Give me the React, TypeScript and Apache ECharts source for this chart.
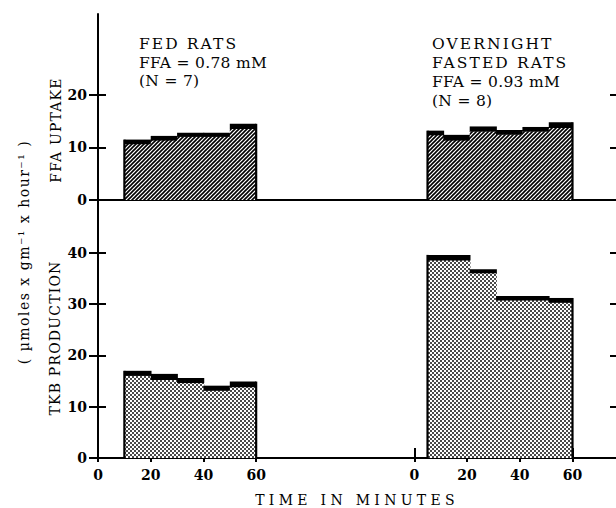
import React, { useEffect, useRef } from "react";
import * as echarts from "echarts";

// ---- data (minutes, µmoles x gm-1 x hour-1) ----
const fedEdges = [10, 20, 30, 40, 50, 60];
const fedFFA = [11.5, 12.2, 12.8, 12.8, 14.5];
const fedFFASE = [0.8, 0.8, 0.7, 0.7, 0.9];
const fedTKB = [17.0, 16.4, 15.6, 14.1, 14.9];
const fedTKBSE = [0.9, 1.1, 0.9, 0.9, 1.0];

const fastedFFAEdges = [5, 11, 21, 31, 41, 51, 60];
const fastedFFA = [13.2, 12.4, 14.0, 13.3, 13.9, 14.8];
const fastedFFASE = [0.8, 1.0, 0.9, 0.8, 0.8, 1.0];
const fastedTKBEdges = [5, 21, 31, 51, 60];
const fastedTKB = [39.6, 36.8, 31.6, 31.2];
const fastedTKBSE = [1.0, 0.7, 0.8, 0.85];

const timeTicks = [0, 20, 40, 60];
const ffaTicks = [0, 10, 20];
const tkbTicks = [0, 10, 20, 30, 40];
const ffaRightTicks = [10, 20];
const tkbRightTicks = [10, 20, 30, 40];

const fedLabel = ["FED RATS", "FFA = 0.78 mM", "(N = 7)"];
const fastedLabel = ["OVERNIGHT", "FASTED RATS", "FFA = 0.93 mM", "(N = 8)"];

const FASTED_OFFSET = 120; // second time block drawn to the right
const X_MAX = 196.5;
const FONT = "'DejaVu Serif', serif";

function steps(edges: number[], vals: number[], se: number[], offset: number) {
  return vals.map((v, i) => [
    edges[i] + offset,
    edges[i + 1] + offset,
    v,
    se[i],
    i === 0 ? 1 : 0,
    i === vals.length - 1 ? 1 : 0,
  ]);
}

function hatchCanvas() {
  const c = document.createElement("canvas");
  c.width = 4;
  c.height = 4;
  const ctx = c.getContext("2d")!;
  ctx.fillStyle = "#fff";
  ctx.fillRect(0, 0, 4, 4);
  ctx.strokeStyle = "#000";
  ctx.lineWidth = 1.6;
  ctx.beginPath();
  ctx.moveTo(-1, 5);
  ctx.lineTo(5, -1);
  ctx.moveTo(-1, 1);
  ctx.lineTo(1, -1);
  ctx.moveTo(3, 5);
  ctx.lineTo(5, 3);
  ctx.stroke();
  return c;
}

function dotCanvas() {
  const c = document.createElement("canvas");
  c.width = 4;
  c.height = 4;
  const ctx = c.getContext("2d")!;
  ctx.fillStyle = "#fff";
  ctx.fillRect(0, 0, 4, 4);
  ctx.fillStyle = "#4a4a4a";
  ctx.fillRect(0, 0, 2, 2);
  ctx.fillRect(2, 2, 2, 2);
  return c;
}

function makeRender(pattern: any) {
  return (params: any, api: any) => {
    const x0 = api.value(0);
    const x1 = api.value(1);
    const v = api.value(2);
    const se = api.value(3);
    const first = api.value(4);
    const last = api.value(5);
    const b0 = api.coord([x0, 0]);
    const t1 = api.coord([x1, v]);
    const m = api.coord([x1, v - se]);
    const w = t1[0] - b0[0] + (last ? 0 : 0.8);
    const children: any[] = [
      {
        type: "rect",
        shape: { x: b0[0], y: m[1], width: w, height: b0[1] - m[1] },
        style: { fill: pattern },
      },
      {
        type: "rect",
        shape: { x: b0[0], y: t1[1], width: w, height: m[1] - t1[1] + 0.5 },
        style: { fill: "#000" },
      },
    ];
    if (first)
      children.push({
        type: "line",
        shape: { x1: b0[0], y1: b0[1], x2: b0[0], y2: t1[1] },
        style: { stroke: "#000", lineWidth: 2.2 },
      });
    if (last)
      children.push({
        type: "line",
        shape: { x1: t1[0], y1: b0[1], x2: t1[0], y2: t1[1] },
        style: { stroke: "#000", lineWidth: 2.2 },
      });
    return { type: "group", children };
  };
}

const allTimeTicks = [...timeTicks, ...timeTicks.map((t) => t + FASTED_OFFSET)];

export default function App() {
  const ref = useRef<HTMLDivElement>(null);
  useEffect(() => {
    if (!ref.current) return;
    const chart = echarts.init(ref.current, undefined, { renderer: "svg" });
    const hatch = { image: hatchCanvas(), repeat: "repeat" };
    const dots = { image: dotCanvas(), repeat: "repeat" };

    const lineStyle = { color: "#000", width: 2 };
    const baseX = { type: "value", min: 0, max: X_MAX, splitLine: { show: false } };
    const tickLabel = { color: "#000", fontFamily: FONT, fontWeight: "bold", fontSize: 14 };

    const txt = (x: number, y: number, text: string, fill = "#050505") => ({
      type: "text",
      x,
      y,
      style: { text, fill, font: `15.5px ${FONT}`, align: "left", verticalAlign: "middle" },
    });

    const option: any = {
      animation: false,
      grid: [
        { left: 98, right: 0, top: 14, height: 186 },
        { left: 98, right: 0, top: 200, height: 258 },
      ],
      xAxis: [
        { ...baseX, gridIndex: 0, position: "bottom", axisLine: { lineStyle }, axisTick: { show: false }, axisLabel: { show: false } },
        { ...baseX, gridIndex: 0, position: "top", axisLine: { lineStyle }, axisTick: { show: false }, axisLabel: { show: false } },
        {
          ...baseX,
          gridIndex: 1,
          position: "bottom",
          axisLine: { lineStyle },
          axisTick: { show: true, inside: true, length: 10, lineStyle: { color: "#000", width: 2 }, customValues: allTimeTicks },
          axisLabel: {
            ...tickLabel,
            margin: 10,
            customValues: allTimeTicks,
            formatter: (v: number) => String(v >= FASTED_OFFSET ? v - FASTED_OFFSET : v),
          },
        },
        {
          ...baseX,
          gridIndex: 1,
          position: "bottom",
          axisLine: { show: false },
          axisTick: { show: true, inside: false, length: 4, lineStyle: { color: "#000", width: 2 }, customValues: allTimeTicks },
          axisLabel: { show: false },
        },
      ],
      yAxis: [
        {
          type: "value", gridIndex: 0, position: "left", min: 0, max: 35.4, splitLine: { show: false },
          axisLine: { show: true, lineStyle },
          axisTick: { show: true, length: 9, lineStyle: { color: "#000", width: 2 }, customValues: ffaTicks },
          axisLabel: { ...tickLabel, margin: 11, customValues: ffaTicks },
        },
        {
          type: "value", gridIndex: 0, position: "left", min: 0, max: 35.4, splitLine: { show: false },
          axisLine: { show: false },
          axisTick: { show: true, inside: true, length: 8, lineStyle: { color: "#000", width: 2 }, customValues: ffaTicks },
          axisLabel: { show: false },
        },
        {
          type: "value", gridIndex: 0, position: "right", min: 0, max: 35.4, splitLine: { show: false },
          axisLine: { show: false },
          axisTick: { show: true, inside: true, length: 6, lineStyle: { color: "#000", width: 2 }, customValues: ffaRightTicks },
          axisLabel: { show: false },
        },
        {
          type: "value", gridIndex: 1, position: "left", min: 0, max: 50.3, splitLine: { show: false },
          axisLine: { show: true, lineStyle },
          axisTick: { show: true, length: 9, lineStyle: { color: "#000", width: 2 }, customValues: tkbTicks },
          axisLabel: { ...tickLabel, margin: 11, customValues: tkbTicks },
        },
        {
          type: "value", gridIndex: 1, position: "left", min: 0, max: 50.3, splitLine: { show: false },
          axisLine: { show: false },
          axisTick: { show: true, inside: true, length: 8, lineStyle: { color: "#000", width: 2 }, customValues: tkbTicks },
          axisLabel: { show: false },
        },
        {
          type: "value", gridIndex: 1, position: "right", min: 0, max: 50.3, splitLine: { show: false },
          axisLine: { show: false },
          axisTick: { show: true, inside: true, length: 6, lineStyle: { color: "#000", width: 2 }, customValues: tkbRightTicks },
          axisLabel: { show: false },
        },
      ],
      series: [
        { type: "custom", name: "Fed FFA uptake", xAxisIndex: 0, yAxisIndex: 0, renderItem: makeRender(hatch), data: steps(fedEdges, fedFFA, fedFFASE, 0) },
        { type: "custom", name: "Fasted FFA uptake", xAxisIndex: 0, yAxisIndex: 0, renderItem: makeRender(hatch), data: steps(fastedFFAEdges, fastedFFA, fastedFFASE, FASTED_OFFSET) },
        { type: "custom", name: "Fed TKB production", xAxisIndex: 2, yAxisIndex: 3, renderItem: makeRender(dots), data: steps(fedEdges, fedTKB, fedTKBSE, 0) },
        { type: "custom", name: "Fasted TKB production", xAxisIndex: 2, yAxisIndex: 3, renderItem: makeRender(dots), data: steps(fastedTKBEdges, fastedTKB, fastedTKBSE, FASTED_OFFSET) },
      ],
      graphic: [
        txt(139, 44, fedLabel[0], "#040404"),
        txt(139, 62.5, fedLabel[1]),
        txt(139, 81, fedLabel[2]),
        txt(432, 43.5, fastedLabel[0], "#040404"),
        txt(432, 62.5, fastedLabel[1], "#040404"),
        txt(432, 82, fastedLabel[2]),
        txt(432, 101, fastedLabel[3]),
        {
          type: "text", x: 357, y: 500,
          style: { text: "TIME IN MINUTES", fill: "#010101", font: `14px ${FONT}`, align: "center", verticalAlign: "middle" },
        },
        {
          type: "text", x: 56, y: 130, rotation: Math.PI / 2,
          style: { text: "FFA UPTAKE", fill: "#020202", font: `14px ${FONT}`, align: "center", verticalAlign: "middle" },
        },
        {
          type: "text", x: 55, y: 338, rotation: Math.PI / 2,
          style: { text: "TKB PRODUCTION", fill: "#020202", font: `14px ${FONT}`, align: "center", verticalAlign: "middle" },
        },
        {
          type: "text", x: 24, y: 252, rotation: Math.PI / 2,
          style: { text: "( \u00B5moles x gm\u207B\u00B9 x hour\u207B\u00B9 )", fill: "#030303", font: `14px ${FONT}`, align: "center", verticalAlign: "middle" },
        },
      ],
    };
    chart.setOption(option);
    return () => chart.dispose();
  }, []);

  return (
    <>
      <style>{`
        svg text[fill="#010101"] { letter-spacing: 4.3px; }
        svg text[fill="#020202"] { letter-spacing: 1.2px; }
        svg text[fill="#030303"] { letter-spacing: 1.5px; }
        svg text[fill="#040404"] { letter-spacing: 2.1px; }
        svg text[fill="#050505"] { letter-spacing: 0.3px; }
      `}</style>
      <div
        ref={ref}
        style={{ position: "fixed", left: 0, top: 0, width: 616, height: 508, background: "#fff" }}
      />
    </>
  );
}
